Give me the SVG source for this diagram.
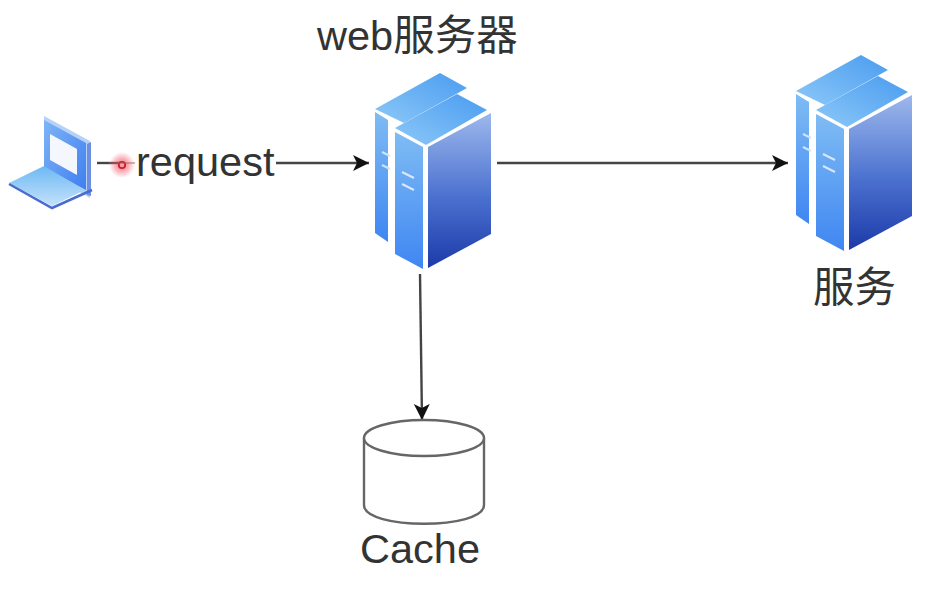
<svg xmlns="http://www.w3.org/2000/svg" width="932" height="596" viewBox="0 0 932 596">
<style>
.t{font-family:"Liberation Sans","Noto Sans CJK SC",sans-serif;fill:#333;font-size:41.5px}
.c{fill:none;stroke:#444;stroke-width:2.4}
.db{fill:#fff;stroke:#666;stroke-width:2.4}
</style>
<defs>
<marker id="a" markerUnits="userSpaceOnUse" markerWidth="18" markerHeight="18" refX="16" refY="8" orient="auto"><path d="M0 0L16 8L0 16L4 8Z" fill="#111"/></marker>
<linearGradient id="top" x1="0" y1="1" x2="1" y2="0"><stop offset="0" stop-color="#8cc8f8"/><stop offset="1" stop-color="#4a9cf0"/></linearGradient>
<linearGradient id="side" x1="0" y1="0" x2="0" y2="1"><stop offset="0" stop-color="#7fbcf4"/><stop offset="1" stop-color="#3f86f2"/></linearGradient>
<linearGradient id="face" x1="0" y1="0" x2="0" y2="1"><stop offset="0" stop-color="#9db8ec"/><stop offset=".55" stop-color="#4a70cf"/><stop offset="1" stop-color="#1c3aa8"/></linearGradient>
<linearGradient id="lscreen" x1="0" y1="0" x2="1" y2="1"><stop offset="0" stop-color="#7fb4f6"/><stop offset="1" stop-color="#3f7ff0"/></linearGradient>
<linearGradient id="lbase" x1="0" y1="0" x2="0" y2="1"><stop offset="0" stop-color="#6db8f4"/><stop offset="1" stop-color="#c4e2fa"/></linearGradient>
<radialGradient id="glow"><stop offset="0" stop-color="#f03040" stop-opacity=".75"/><stop offset=".55" stop-color="#f05060" stop-opacity=".4"/><stop offset="1" stop-color="#f05060" stop-opacity="0"/></radialGradient>
<g id="srv">
<path d="M375 109L440 73L467 88L404 123Z" fill="url(#top)"/>
<path d="M375 112L388 120V242L375 233Z" fill="url(#side)"/>
<path d="M382 152l8 4M382 165l8 4" stroke="#cfe4fb" stroke-width="2"/>
<path d="M395 128L457 94L487 110L426 145Z" fill="url(#top)"/>
<path d="M395 132L423 147V269L395 254Z" fill="url(#side)"/>
<path d="M428 147L491 113V234L428 268Z" fill="url(#face)"/>
<path d="M402 172l12 6M402 184l12 6" stroke="#d8e8fb" stroke-width="2"/>
</g>
</defs>
<rect width="932" height="596" fill="#fff"/>
<g id="connectors">
<path class="c" d="M97 163H120"/>
<path class="c" d="M276 163H369" marker-end="url(#a)"/>
<path class="c" d="M497 163H788" marker-end="url(#a)"/>
<path class="c" d="M420 274L422 420" marker-end="url(#a)"/>
</g>
<g id="laptop">
<path d="M44 116L90 141V198L44 172Z" fill="#b6d2f6"/>
<path d="M44 120L86 143V190L44 168Z" fill="url(#lscreen)"/>
<path d="M50 134L77 149V175L50 160Z" fill="#f4f7fe"/>
<path d="M87 144L91 142V196L87 195Z" fill="#6f8fe0"/>
<path d="M44 166L85 190L52 206L9 183Z" fill="url(#lbase)"/>
<path d="M9 184L52 208L92 190" fill="none" stroke="#4a6bd0" stroke-width="2.5"/>
</g>
<g id="cursor">
<circle cx="122" cy="165" r="13" fill="url(#glow)"/>
<circle cx="122" cy="165" r="3.2" fill="#f6a0a0" stroke="#c8202c" stroke-width="1.8"/>
<path d="M109 163H135" stroke="#a05a5a" stroke-width="1.5" opacity=".6"/>
</g>
<g id="label-request"><text class="t" x="136" y="176">request</text></g>
<g id="web-server"><use href="#srv"/>
<text class="t" x="317" y="50">web服务器</text></g>
<g id="service"><use href="#srv" transform="translate(421,-18)"/>
<text class="t" x="813" y="302">服务</text></g>
<g id="cache">
<path class="db" d="M364 438V505C364 530 484 530 484 505V438"/>
<ellipse class="db" cx="424" cy="438" rx="60" ry="18"/>
<text class="t" x="360" y="563">Cache</text>
</g>
</svg>
